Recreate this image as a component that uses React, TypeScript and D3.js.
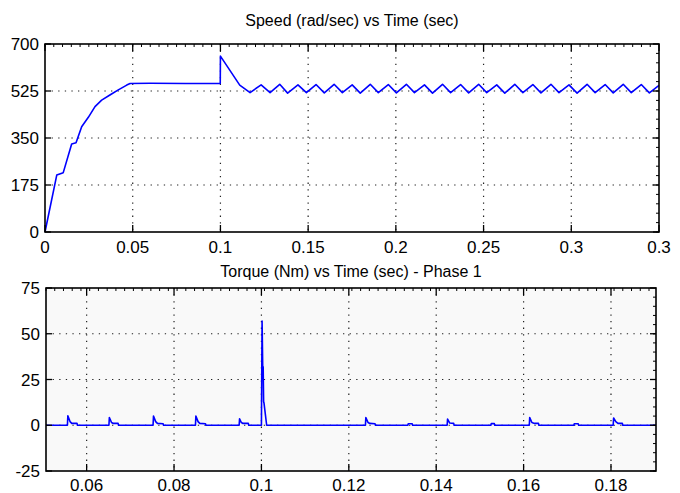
import React, { useRef, useEffect } from "react";
import * as d3 from "d3";

// Speed trace (rad/sec)
const speedTime = [
  0, 0.0067, 0.0104, 0.0152, 0.0177, 0.0209, 0.0247, 0.0285, 0.0323, 0.037, 0.0418, 0.0466, 0.0485,
  0.06, 0.08, 0.0999, 0.1, 0.111, 0.1169,
  0.1232, 0.1283, 0.1338, 0.1383, 0.1442, 0.149, 0.1545, 0.1592, 0.1648, 0.1695, 0.1751, 0.1797,
  0.1854, 0.19, 0.1957, 0.2003, 0.206, 0.2106, 0.2163, 0.2209, 0.2266, 0.2312, 0.2369, 0.2415,
  0.2472, 0.2518, 0.2575, 0.2621, 0.2678, 0.2724, 0.2781, 0.2827, 0.2884, 0.293, 0.2987, 0.3033,
  0.309, 0.3136, 0.3193, 0.3239, 0.3296, 0.3342, 0.3399, 0.3445, 0.35,
];
const speedValue = [
  0, 212, 221, 328, 332, 392, 427, 467, 491, 510, 529, 547, 553,
  554, 553, 553, 655, 547, 519,
  548, 519, 550, 517, 548, 519, 549, 518, 550, 519, 548, 517,
  550, 519, 549, 518, 550, 519, 548, 517, 550, 519, 549, 518,
  550, 519, 548, 517, 550, 519, 549, 518, 550, 519, 548, 517,
  550, 519, 549, 518, 550, 519, 549, 518, 546,
];

// Torque trace (Nm), phase 1
const torqueTime = [
  0.0507, 0.0556, 0.0557, 0.0562, 0.0566, 0.0578, 0.0579,
  0.0651, 0.0652, 0.0657, 0.0661, 0.0672, 0.0673,
  0.0752, 0.0753, 0.0758, 0.0762, 0.0775, 0.0776,
  0.0849, 0.085, 0.0855, 0.0859, 0.0872, 0.0873,
  0.0949, 0.095, 0.0954, 0.0958, 0.097, 0.0971,
  0.1, 0.10015, 0.1003, 0.1004, 0.1005, 0.1006, 0.1012,
  0.1238, 0.1239, 0.1244, 0.1248, 0.126, 0.1261,
  0.1335, 0.1336, 0.1345, 0.1346,
  0.1425, 0.1426, 0.1431, 0.144, 0.1441,
  0.1525, 0.1526, 0.1533, 0.1534,
  0.1613, 0.1614, 0.1619, 0.1625, 0.1634, 0.1635,
  0.1715, 0.1716, 0.1725, 0.1726,
  0.1805, 0.1806, 0.1811, 0.1816, 0.1826, 0.1827,
  0.1903,
];
const torqueValue = [
  0, 0, 5.2, 2, 1, 1, 0,
  0, 4.2, 1.5, 1, 1, 0,
  0, 5, 2, 1, 0.8, 0,
  0, 5, 2, 1, 0.8, 0,
  0, 3.5, 1.5, 1, 1, 0,
  0, 57, 31, 32, 13, 12, 0,
  0, 4.2, 1.5, 1, 0.8, 0,
  0, 0.8, 0.8, 0,
  0, 3.4, 1.2, 1, 0,
  0, 0.9, 0.9, 0,
  0, 4.2, 1.5, 1, 1, 0,
  0, 0.8, 0.8, 0,
  0, 4, 2, 1, 1, 0,
  0,
];

const speedXTicks = [0, 0.05, 0.1, 0.15, 0.2, 0.25, 0.3, 0.35];
const speedXLabels = ["0", "0.05", "0.1", "0.15", "0.2", "0.25", "0.3", "0.3"];
const speedYTicks = [0, 175, 350, 525, 700];
const torqueXTicks = [0.06, 0.08, 0.1, 0.12, 0.14, 0.16, 0.18];
const torqueXLabels = ["0.06", "0.08", "0.1", "0.12", "0.14", "0.16", "0.18"];
const torqueYTicks = [-25, 0, 25, 50, 75];

const FONT = "'Liberation Sans', Arial, sans-serif";

function drawPanel(svg, opts) {
  const { left, right, top, bottom, xDomain, yDomain, xTicks, xLabels, yTicks,
    xMinor, yMinor, times, values, title, titleGap, labelGap, bg } = opts;

  const x = d3.scaleLinear().domain(xDomain).range([left, right]);
  const y = d3.scaleLinear().domain(yDomain).range([bottom, top]);
  const g = svg.append("g");

  g.append("rect")
    .attr("x", left).attr("y", top)
    .attr("width", right - left).attr("height", bottom - top)
    .attr("fill", bg);

  // dotted grid
  g.selectAll(".vgrid").data(xTicks.filter((t) => x(t) > left + 1 && x(t) < right - 1)).enter()
    .append("line")
    .attr("x1", (d) => x(d)).attr("x2", (d) => x(d))
    .attr("y1", top).attr("y2", bottom)
    .attr("stroke", "#222").attr("stroke-width", 1.2)
    .attr("stroke-dasharray", "1.3,5.3");
  g.selectAll(".hgrid").data(yTicks.filter((t) => y(t) > top + 1 && y(t) < bottom - 1)).enter()
    .append("line")
    .attr("x1", left).attr("x2", right)
    .attr("y1", (d) => y(d)).attr("y2", (d) => y(d))
    .attr("stroke", "#222").attr("stroke-width", 1.2)
    .attr("stroke-dasharray", "1.3,5.3");

  // data line
  const pts = times.map((t, i) => [t, values[i]]);
  const line = d3.line().x((d) => x(d[0])).y((d) => y(d[1]));
  g.append("path")
    .datum(pts)
    .attr("d", line)
    .attr("fill", "none")
    .attr("stroke", "#0000ff")
    .attr("stroke-width", 1.6)
    .attr("stroke-linejoin", "round");

  // minor ticks on top and right edges
  const xm = d3.range(xDomain[0], xDomain[1], xMinor);
  g.selectAll(".xminor").data(xm).enter().append("line")
    .attr("x1", (d) => x(d)).attr("x2", (d) => x(d))
    .attr("y1", top).attr("y2", top + 3)
    .attr("stroke", "#000").attr("stroke-width", 1);
  const ym = d3.range(yDomain[0], yDomain[1], yMinor);
  g.selectAll(".yminor").data(ym).enter().append("line")
    .attr("x1", right - 3).attr("x2", right)
    .attr("y1", (d) => y(d)).attr("y2", (d) => y(d))
    .attr("stroke", "#000").attr("stroke-width", 1);

  // major ticks, inward on all four sides
  xTicks.forEach((t) => {
    g.append("line").attr("x1", x(t)).attr("x2", x(t)).attr("y1", bottom).attr("y2", bottom - 7)
      .attr("stroke", "#000").attr("stroke-width", 1.3);
    g.append("line").attr("x1", x(t)).attr("x2", x(t)).attr("y1", top).attr("y2", top + 7)
      .attr("stroke", "#000").attr("stroke-width", 1.3);
  });
  yTicks.forEach((t) => {
    g.append("line").attr("x1", left).attr("x2", left + 6).attr("y1", y(t)).attr("y2", y(t))
      .attr("stroke", "#000").attr("stroke-width", 1.3);
    g.append("line").attr("x1", right).attr("x2", right - 6).attr("y1", y(t)).attr("y2", y(t))
      .attr("stroke", "#000").attr("stroke-width", 1.3);
  });

  // box
  g.append("rect")
    .attr("x", left).attr("y", top)
    .attr("width", right - left).attr("height", bottom - top)
    .attr("fill", "none").attr("stroke", "#000").attr("stroke-width", 1.6);

  // tick labels
  g.selectAll(".xlab").data(xTicks).enter().append("text")
    .attr("x", (d) => x(d)).attr("y", bottom + labelGap)
    .attr("text-anchor", "middle")
    .attr("font-family", FONT).attr("font-size", 17).attr("fill", "#000")
    .text((d, i) => xLabels[i]);
  g.selectAll(".ylab").data(yTicks).enter().append("text")
    .attr("x", left - 6).attr("y", (d) => y(d) + 6)
    .attr("text-anchor", "end")
    .attr("font-family", FONT).attr("font-size", 17).attr("fill", "#000")
    .text((d) => String(d));

  g.append("text")
    .attr("x", (left + right) / 2).attr("y", top - titleGap)
    .attr("text-anchor", "middle")
    .attr("font-family", FONT).attr("font-size", 16).attr("fill", "#000")
    .text(title);
}

function App() {
  const svgRef = useRef(null);

  useEffect(() => {
    const svg = d3.select(svgRef.current);
    svg.selectAll("*").remove();

    drawPanel(svg, {
      left: 45, right: 659, top: 44, bottom: 232,
      xDomain: [0, 0.35], yDomain: [0, 700],
      xTicks: speedXTicks, xLabels: speedXLabels, yTicks: speedYTicks,
      xMinor: 0.005, yMinor: 35,
      times: speedTime, values: speedValue,
      title: "Speed (rad/sec) vs Time (sec)", titleGap: 18, labelGap: 21, bg: "#ffffff",
    });

    drawPanel(svg, {
      left: 46, right: 656, top: 288, bottom: 471,
      xDomain: [0.0507, 0.1903], yDomain: [-25, 75],
      xTicks: torqueXTicks, xLabels: torqueXLabels, yTicks: torqueYTicks,
      xMinor: 0.002, yMinor: 5,
      times: torqueTime, values: torqueValue,
      title: "Torque (Nm) vs Time (sec) - Phase 1", titleGap: 11, labelGap: 20, bg: "#f9f9f9",
    });
  }, []);

  return (
    <svg ref={svgRef} width={680} height={493}
      style={{ position: "absolute", left: 0, top: 0, background: "#fff" }} />
  );
}

export default App;
